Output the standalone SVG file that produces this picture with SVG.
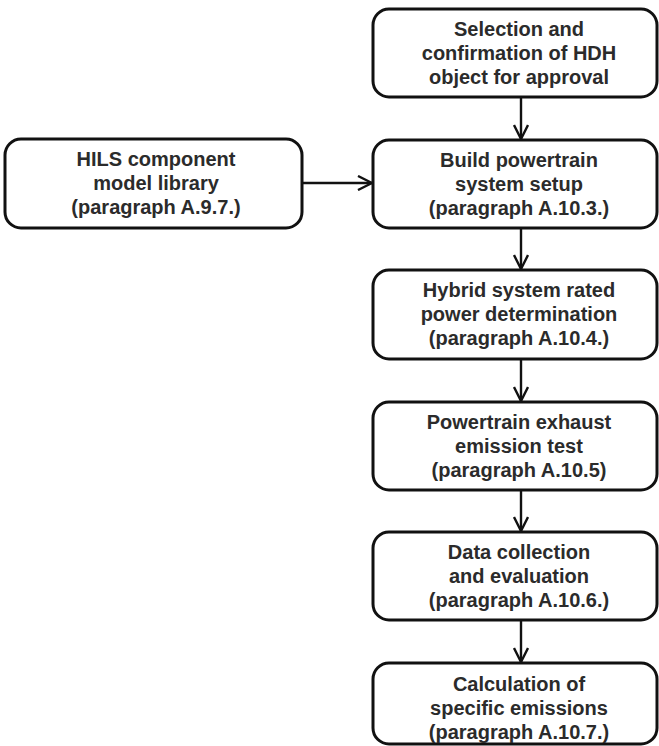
<svg xmlns="http://www.w3.org/2000/svg" width="659" height="746" viewBox="0 0 659 746">
<defs>
<style>
.box{fill:#fff;stroke:#111;stroke-width:3}
.t{font-family:"Liberation Sans",Arial,sans-serif;font-weight:bold;font-size:20px;fill:#2b2b2b;text-anchor:middle}
.c{stroke:#111;stroke-width:2.4;fill:none}
</style>
<marker id="ah" viewBox="0 0 16 16" refX="15" refY="8" markerWidth="16" markerHeight="16" markerUnits="userSpaceOnUse" orient="auto">
<path d="M1,1 L15,8 L1,15" fill="none" stroke="#111" stroke-width="2.4"/>
</marker>
</defs>
<rect width="659" height="746" fill="#fff"/>
<g id="connectors">
<line class="c" x1="521" y1="97" x2="521" y2="139" marker-end="url(#ah)"/>
<line class="c" x1="302" y1="183" x2="372" y2="183" marker-end="url(#ah)"/>
<line class="c" x1="521" y1="228" x2="521" y2="269" marker-end="url(#ah)"/>
<line class="c" x1="521" y1="359" x2="521" y2="401" marker-end="url(#ah)"/>
<line class="c" x1="521" y1="490" x2="521" y2="531" marker-end="url(#ah)"/>
<line class="c" x1="521" y1="620" x2="521" y2="662" marker-end="url(#ah)"/>
</g>
<g id="n1">
<rect class="box" x="373" y="9" width="284" height="88" rx="16"/>
<text class="t" x="519" y="36">Selection and</text>
<text class="t" x="519" y="60">confirmation of HDH</text>
<text class="t" x="519" y="84">object for approval</text>
</g>
<g id="n0">
<rect class="box" x="5" y="139" width="297" height="89" rx="16"/>
<text class="t" x="156" y="166">HILS component</text>
<text class="t" x="156" y="190">model library</text>
<text class="t" x="156" y="214">(paragraph A.9.7.)</text>
</g>
<g id="n2">
<rect class="box" x="373" y="140" width="284" height="88" rx="16"/>
<text class="t" x="519" y="167">Build powertrain</text>
<text class="t" x="519" y="191">system setup</text>
<text class="t" x="519" y="215">(paragraph A.10.3.)</text>
</g>
<g id="n3">
<rect class="box" x="373" y="270" width="284" height="89" rx="16"/>
<text class="t" x="519" y="297">Hybrid system rated</text>
<text class="t" x="519" y="321">power determination</text>
<text class="t" x="519" y="345">(paragraph A.10.4.)</text>
</g>
<g id="n4">
<rect class="box" x="373" y="402" width="284" height="88" rx="16"/>
<text class="t" x="519" y="429">Powertrain exhaust</text>
<text class="t" x="519" y="453">emission test</text>
<text class="t" x="519" y="477">(paragraph A.10.5)</text>
</g>
<g id="n5">
<rect class="box" x="373" y="532" width="284" height="88" rx="16"/>
<text class="t" x="519" y="559">Data collection</text>
<text class="t" x="519" y="583">and evaluation</text>
<text class="t" x="519" y="607">(paragraph A.10.6.)</text>
</g>
<g id="n6">
<rect class="box" x="373" y="663" width="284" height="81" rx="16"/>
<text class="t" x="519" y="691">Calculation of</text>
<text class="t" x="519" y="715">specific emissions</text>
<text class="t" x="519" y="739">(paragraph A.10.7.)</text>
</g>
</svg>
